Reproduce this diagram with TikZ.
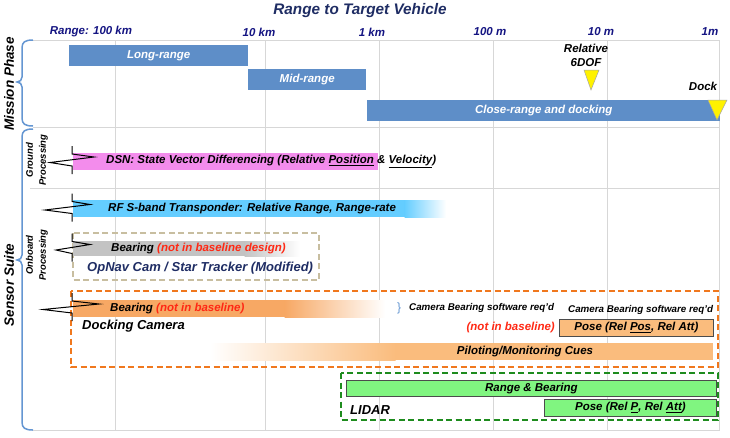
\documentclass[tikz,border=0pt]{standalone}
\usepackage{fontspec}
\setmainfont{Liberation Sans}
\definecolor{mblue}{RGB}{94,142,200}
\definecolor{navy}{RGB}{31,45,100}
\definecolor{rangeblue}{RGB}{20,20,130}
\definecolor{braceblue}{RGB}{100,150,210}
\definecolor{gridgray}{RGB}{215,215,215}
\definecolor{pinkbar}{RGB}{243,140,236}
\definecolor{skybar}{RGB}{100,205,255}
\definecolor{graybar}{RGB}{195,195,195}
\definecolor{orbar}{RGB}{247,168,100}
\definecolor{orlight}{RGB}{250,188,125}
\definecolor{ordash}{RGB}{240,120,30}
\definecolor{tandash}{RGB}{200,190,160}
\definecolor{grbar}{RGB}{128,245,128}
\definecolor{grdash}{RGB}{30,140,30}
\definecolor{notred}{RGB}{255,40,20}
\newcommand{\fsz}[1]{\fontsize{#1}{#1}\selectfont\bfseries\itshape}
\newcommand{\boltmark}[3]{% y center, left x, right x
  \draw[bolt] (72,#1-15) -- (72,#1-7) -- (#3,#1-4) -- (#2,#1+1.5) -- (72,#1+5) -- (72,#1+13);}
\begin{document}
\begin{tikzpicture}[x=1pt,y=-1pt,
  txt/.style={inner sep=0pt, font=\fsz{11.5}},
  phasebar/.style={fill=mblue, draw=none, inner sep=0pt, anchor=north west, text=white, font=\fsz{11.5}},
  gridline/.style={draw=gridgray, line width=0.9pt},
  bolt/.style={draw=black, line width=1pt, line join=miter},
  bracestyle/.style={draw=braceblue, line width=1.5pt},
  rlabel/.style={inner sep=0pt, text=rangeblue, font=\fsz{11.5}},
  sidelabel/.style={inner sep=0pt, rotate=90, font=\fsz{13.5}},
  sublabel/.style={inner sep=0pt, rotate=90, align=center, font=\fontsize{9.5}{13}\selectfont\bfseries\itshape},
  dashbox/.style={line width=1.8pt, dash pattern=on 6pt off 3.5pt},
  tri/.style={fill=yellow, draw=gray!70, line width=0.5pt},
  greenbox/.style={fill=grbar, draw=black!70, line width=0.8pt, inner sep=0pt, anchor=north west, font=\fsz{11.5}},
  posebox/.style={fill=orlight, draw=black!70, line width=0.8pt, inner sep=0pt, anchor=north west, font=\fsz{11.5}}
]
\useasboundingbox (0,0) rectangle (730,437);
\fill[white] (0,0) rectangle (730,437);

% grid
\foreach \gx in {115,265,379,493,607,719} \draw[gridline] (\gx,40) -- (\gx,430);
\draw[gridline] (33,40) -- (720,40);
\draw[gridline] (33,127) -- (720,127);
\draw[gridline] (30,188) -- (720,188);
\draw[gridline] (33,430) -- (720,430);

% title and range labels
\node[inner sep=0pt, text=navy, font=\fsz{15.3}] (title) at (360,11) {Range to Target Vehicle};
\node[rlabel] (r100km) at (91,32) {Range: 100 km};
\node[rlabel] (r10km) at (259,32) {10 km};
\node[rlabel] (r1km) at (372,32) {1 km};
\node[rlabel] (r100m) at (490,32) {100 m};
\node[rlabel] (r10m) at (601,32) {10 m};
\node[rlabel] (r1m) at (710,32) {1m};

% braces
\draw[bracestyle] (33,40) .. controls (25,40) and (22,42) .. (22,48) -- (22,77)
  .. controls (22,80) and (20,82) .. (17,82) .. controls (20,82) and (22,84) .. (22,87)
  -- (22,118) .. controls (22,124) and (25,126) .. (33,126);
\draw[bracestyle] (33,129) .. controls (25,129) and (22,131) .. (22,137) -- (22,255)
  .. controls (22,258) and (20,260) .. (17,260) .. controls (20,260) and (22,262) .. (22,265)
  -- (22,422) .. controls (22,428) and (25,430) .. (33,430);
\node[sidelabel] (mission) at (9,84) {Mission Phase};
\node[sidelabel] (sensor) at (9,285) {Sensor Suite};
\node[sublabel] (ground) at (37,160) {Ground\\Processing};
\node[sublabel] (onboard) at (37,255) {Onboard\\Processing};

% mission phase bars
\node[phasebar, minimum width=179pt, minimum height=21pt] (longr) at (69,45) {Long-range};
\node[phasebar, minimum width=118pt, minimum height=21pt] (midr) at (248,69) {Mid-range};
\node[phasebar, minimum width=353pt, minimum height=21pt] (closer) at (367,100) {Close-range and docking};

% triangles
\draw[tri] (584,70) -- (599,70) -- (591,90) -- cycle;
\node[txt, align=center, font=\fontsize{11.5}{14}\selectfont\bfseries\itshape] (rel6dof) at (586,55) {Relative\\6DOF};
\draw[tri] (708,100) -- (727,100) -- (717,120) -- cycle;
\node[txt] (dock) at (703,86) {Dock};

% DSN
\fill[pinkbar] (73,153) rectangle (378,170);
\boltmark{161}{50}{94}
\node[txt, anchor=west] (dsn) at (106,161.5) {DSN: State Vector Differencing (Relative \underline{Position} \& \underline{Velocity})};

% RF
\fill[skybar] (73,200) rectangle (405,217);
\shade[left color=skybar, right color=white] (404.5,200) rectangle (446,217);
\boltmark{208.5}{45}{90}
\node[txt, anchor=west] (rf) at (108,209) {RF S-band Transponder: Relative Range, Range-rate};

% OpNav
\draw[dashbox, tandash] (73,233) rectangle (319,280);
\fill[graybar] (73,241) rectangle (245,256);
\shade[left color=graybar, right color=white] (244.5,241) rectangle (300,256);
\boltmark{248.5}{56}{90}
\node[txt, anchor=west] (bearing1) at (111,249) {Bearing \textcolor{notred}{(not in baseline design)}};
\node[inner sep=0pt, anchor=west, text=navy, font=\fsz{13}] (opnav) at (87,268) {OpNav Cam / Star Tracker (Modified)};

% Docking camera
\fill[orbar] (73,300) rectangle (285,317);
\shade[left color=orbar, right color=white] (284.5,300) rectangle (385,317);
\shade[left color=white, right color=orlight] (210,343) rectangle (395.5,360);
\fill[orlight] (395,343) rectangle (713,360);
\draw[dashbox, ordash] (71,291) rectangle (718,367);
\boltmark{308}{43}{99}
\node[txt, anchor=west] (bearing2) at (110,308.5) {Bearing \textcolor{notred}{(not in baseline)}};
\node[inner sep=0pt, anchor=west, font=\fsz{13}] (dockcam) at (82,326) {Docking Camera};
\node[inner sep=0pt, text=braceblue, font=\fontsize{12}{12}\selectfont] (smallbrace) at (399,308) {\}};
\node[inner sep=0pt, anchor=west, font=\fsz{9.8}] (camsw1) at (409,308) {Camera Bearing software req'd};
\node[inner sep=0pt, anchor=west, font=\fsz{9.8}] (camsw2) at (568,310) {Camera Bearing software req'd};
\node[txt, anchor=east, text=notred] (notbase) at (555,328) {(not in baseline)};
\node[posebox, minimum width=154pt, minimum height=17pt] (posecam) at (559,319) {Pose (Rel \underline{Pos}, Rel Att)};
\node[txt] (piloting) at (525,352) {Piloting/Monitoring Cues};

% LIDAR
\draw[dashbox, grdash] (341,373) rectangle (718,420);
\node[greenbox, minimum width=370pt, minimum height=16pt] (rangebear) at (346,380) {Range \& Bearing};
\node[greenbox, minimum width=172pt, minimum height=17pt] (poselidar) at (544,399) {Pose (Rel \underline{P}, Rel \underline{Att})};
\node[inner sep=0pt, anchor=west, font=\fsz{13}] (lidar) at (350,410) {LIDAR};
\end{tikzpicture}
\end{document}
